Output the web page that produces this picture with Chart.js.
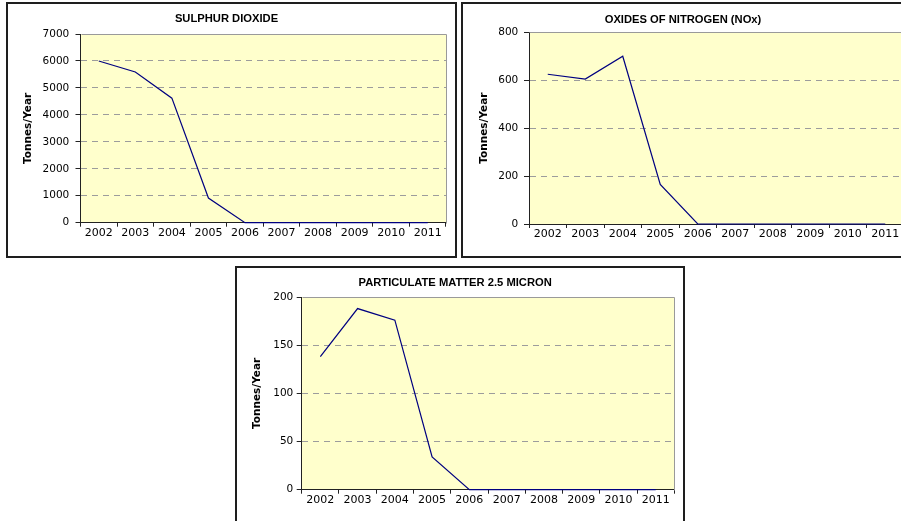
<!DOCTYPE html>
<html>
<head>
<meta charset="utf-8">
<script src="https://cdn.jsdelivr.net/npm/chart.js@4/dist/chart.umd.min.js"></script>
<style>
  html, body { margin: 0; padding: 0; background: #fff; }
  body { position: relative; width: 901px; height: 521px; overflow: hidden; }
  canvas { position: absolute; }
  .box { position: absolute; border: 2px solid #1e1e1e; box-sizing: border-box; pointer-events: none; }
</style>
</head>
<body>
<canvas id="so2"></canvas>
<canvas id="nox"></canvas>
<canvas id="pm25"></canvas>
<div class="box" style="left:6px;top:2px;width:451px;height:256px"></div>
<div class="box" style="left:461px;top:2px;width:454px;height:256px"></div>
<div class="box" style="left:235px;top:266px;width:450px;height:260px"></div>
<script>
// Annual emissions, tonnes per year
const years = ['2002', '2003', '2004', '2005', '2006', '2007', '2008', '2009', '2010', '2011'];
const so2Values  = [6000, 5590, 4620, 915, 0, 0, 0, 0, 0, 0];
const noxValues  = [625, 605, 700, 165, 0, 0, 0, 0, 0, 0];
const pm25Values = [138, 188, 176, 34, 0, 0, 0, 0, 0, 0];

// Y axis ranges: [max, step]
const so2Axis  = [7000, 1000];
const noxAxis  = [800, 200];
const pm25Axis = [200, 50];

const titles = ['SULPHUR DIOXIDE', 'OXIDES OF NITROGEN (NOx)', 'PARTICULATE MATTER 2.5 MICRON'];
const yTitle = 'Tonnes/Year';

// Pale yellow plot background with a grey frame on top and right
const plotFrame = {
  id: 'plotFrame',
  beforeDraw(chart) {
    const a = chart.chartArea, ctx = chart.ctx;
    ctx.save();
    ctx.fillStyle = '#FFFFCC';
    ctx.fillRect(a.left, a.top, a.right - a.left, a.bottom - a.top);
    ctx.restore();
  },
  beforeDatasetsDraw(chart) {
    const a = chart.chartArea, ctx = chart.ctx;
    ctx.save();
    ctx.strokeStyle = '#9a9a9a';
    ctx.lineWidth = 1;
    ctx.beginPath();
    ctx.moveTo(Math.round(a.left) + 0.5, Math.round(a.top) + 0.5);
    ctx.lineTo(Math.round(a.right) + 0.5, Math.round(a.top) + 0.5);
    ctx.lineTo(Math.round(a.right) + 0.5, Math.round(a.bottom) + 0.5);
    ctx.stroke();
    ctx.restore();
  }
};

function makeChart(id, title, values, axis, lay) {
  const cv = document.getElementById(id);
  cv.width = lay.w; cv.height = lay.h;
  cv.style.left = lay.x + 'px'; cv.style.top = lay.y + 'px';
  cv.style.width = lay.w + 'px'; cv.style.height = lay.h + 'px';
  const [yMax, yStep] = axis;
  return new Chart(cv, {
    type: 'line',
    data: {
      labels: years,
      datasets: [{
        data: values,
        borderColor: '#000080',
        borderWidth: 1.2,
        pointRadius: 0,
        tension: 0,
        fill: false,
        clip: false
      }]
    },
    options: {
      responsive: false,
      animation: false,
      devicePixelRatio: 1,
      layout: { padding: { left: 0, top: 0, right: lay.w - lay.right, bottom: 0 } },
      plugins: {
        legend: { display: false },
        tooltip: { enabled: false },
        title: {
          display: true,
          text: title,
          color: '#000',
          font: { family: 'Liberation Sans', weight: 'bold', size: 11.2, lineHeight: 1.2 },
          padding: { top: lay.titleTop, bottom: lay.top - lay.titleTop - 13.44 }
        }
      },
      scales: {
        x: {
          type: 'category',
          offset: true,
          grid: {
            offset: true,
            drawOnChartArea: false,
            drawTicks: true,
            tickLength: 4,
            tickColor: '#222',
            tickWidth: 1
          },
          border: { display: true, color: '#222', width: 1 },
          ticks: {
            color: '#000',
            font: { family: 'DejaVu Sans', size: 11, lineHeight: 1 },
            padding: 0.5,
            maxRotation: 0,
            autoSkip: false
          },
          afterFit(s) { s.height = lay.h - lay.bottom; }
        },
        y: {
          min: 0,
          max: yMax,
          grid: {
            color: (c) => (c.tick && (c.tick.value === 0 || c.tick.value === yMax)) ? 'rgba(0,0,0,0)' : '#9c9c9c',
            lineWidth: 1,
            drawTicks: true,
            tickLength: 5,
            tickColor: '#222',
            tickWidth: 1,
            tickBorderDash: []
          },
          border: { display: true, color: '#222', width: 1, dash: [6, 5] },
          ticks: {
            stepSize: yStep,
            color: '#000',
            font: { family: 'DejaVu Sans', size: 10.5 },
            padding: lay.yPad,
            callback: (v) => String(v)
          },
          title: {
            display: true,
            text: yTitle,
            color: '#000',
            font: { family: 'DejaVu Sans', weight: 'bold', size: 10.5, lineHeight: 1.2 },
            padding: { top: lay.yTitle - 6.3, bottom: 0 }
          },
          afterFit(s) { s.width = lay.left; }
        }
      }
    },
    plugins: [plotFrame]
  });
}

makeChart('so2', titles[0], so2Values, so2Axis,
  { x: 7, y: 3, w: 449, h: 254, left: 73.5, right: 439, top: 31, bottom: 219.7, titleTop: 9.6, yPad: 6.2, yTitle: 21.5 });
makeChart('nox', titles[1], noxValues, noxAxis,
  { x: 462, y: 3, w: 452, h: 254, left: 67, right: 442, top: 29.3, bottom: 221, titleTop: 10.3, yPad: 5.7, yTitle: 22.3 });
makeChart('pm25', titles[2], pm25Values, pm25Axis,
  { x: 236, y: 267, w: 448, h: 258, left: 65.7, right: 438.3, top: 30, bottom: 222.7, titleTop: 9.3, yPad: 3.4, yTitle: 21.7 });
</script>
</body>
</html>
